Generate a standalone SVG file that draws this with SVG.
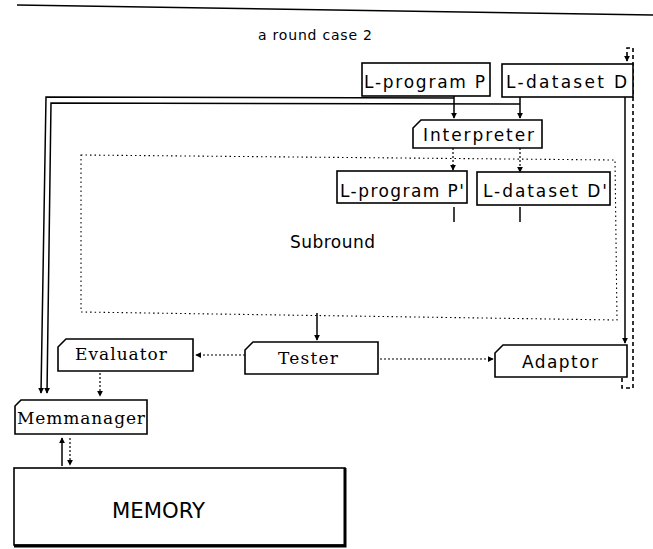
<svg xmlns="http://www.w3.org/2000/svg" width="653" height="549" viewBox="0 0 653 549">
<defs>
<style>
.box{fill:#fff;stroke:#000;stroke-width:1.6}
.lbl{font-family:"DejaVu Sans","Liberation Sans",sans-serif;font-size:17px;fill:#000}
.ser{font-family:"DejaVu Serif","Liberation Serif",serif;font-size:17px;fill:#000}
.sol{fill:none;stroke:#000;stroke-width:1.5}
.dot{fill:none;stroke:#000;stroke-width:1.2;stroke-dasharray:2 2}
.dsh{fill:none;stroke:#000;stroke-width:1.6;stroke-dasharray:4 3}
.sub{fill:none;stroke:#000;stroke-width:1.1;stroke-dasharray:1.5 3}
</style>
<marker id="ah" viewBox="0 0 8 8" refX="7" refY="4" markerWidth="6" markerHeight="6" orient="auto" markerUnits="userSpaceOnUse">
<path d="M0,0 L8,4 L0,8 z" fill="#000"/>
</marker>
</defs>
<rect width="653" height="549" fill="#fff"/>
<line x1="17" y1="5" x2="653" y2="15" stroke="#000" stroke-width="1.5"/>
<text x="258" y="40" font-family="DejaVu Sans, sans-serif" font-size="14" textLength="114" lengthAdjust="spacing">a round  case 2</text>

<g id="subround">
<path class="sub" d="M81,155 L615,160 L617,320 L81,312 Z"/>
<text class="lbl" x="290" y="248" font-size="16" textLength="85" lengthAdjust="spacing">Subround</text>
</g>

<g id="connectors">
<path class="sol" d="M454,98 L46,97 L41,393" marker-end="url(#ah)"/>
<path class="sol" d="M520,104 L51,103 L47,393" marker-end="url(#ah)"/>
<path class="sol" d="M454,96 L454,118" marker-end="url(#ah)"/>
<path class="sol" d="M520,97 L520,118" marker-end="url(#ah)"/>
<path class="dot" d="M453,148 L453,170" marker-end="url(#ah)"/>
<path class="dot" d="M520,148 L520,172" marker-end="url(#ah)"/>
<path class="sol" d="M454,207 L454,222"/>
<path class="sol" d="M520,207 L520,222"/>
<path class="sol" d="M317,313 L317,340" marker-end="url(#ah)"/>
<path class="dot" d="M245,355 L196,355" marker-end="url(#ah)"/>
<path class="dot" d="M380,359 L493,359" marker-end="url(#ah)"/>
<path class="dot" d="M100,373 L100,396" marker-end="url(#ah)"/>
<path class="sol" d="M62,466 L62,438" marker-end="url(#ah)"/>
<path class="dot" d="M70,438 L70,465" marker-end="url(#ah)"/>
<path class="sol" d="M625,97 L625,343" marker-end="url(#ah)"/>
<path class="dsh" d="M622,378 L622,388 L633,388 L633,48 L627,48 L627,61" marker-end="url(#ah)"/>
</g>

<g id="lprogP">
<rect class="box" x="362" y="63" width="128" height="33"/>
<text class="lbl" x="364" y="88" textLength="121" lengthAdjust="spacing">L-program P</text>
</g>
<g id="ldataD">
<rect class="box" x="502" y="64" width="131" height="33"/>
<text class="lbl" x="506" y="88" textLength="121" lengthAdjust="spacing">L-dataset  D</text>
</g>
<g id="interpreter">
<path class="box" d="M421,120 L542,120 L542,148 L413,148 L413,128 Z"/>
<text class="lbl" x="423" y="141" textLength="111" lengthAdjust="spacing">Interpreter</text>
</g>
<g id="lprogP2">
<rect class="box" x="337" y="171" width="130" height="32"/>
<text class="lbl" x="340" y="197" textLength="124" lengthAdjust="spacing">L-program P'</text>
</g>
<g id="ldataD2">
<rect class="box" x="477" y="172" width="133" height="33"/>
<text class="lbl" x="483" y="197" textLength="124" lengthAdjust="spacing">L-dataset D'</text>
</g>
<g id="evaluator">
<path class="box" d="M66,339 L193,339 L193,371 L58,371 L58,347 Z"/>
<text class="ser" x="75" y="360" textLength="92" lengthAdjust="spacing">Evaluator</text>
</g>
<g id="tester">
<path class="box" d="M253,342 L378,342 L378,374 L245,374 L245,350 Z"/>
<text class="ser" x="278" y="364" textLength="60" lengthAdjust="spacing">Tester</text>
</g>
<g id="adaptor">
<path class="box" d="M503,345 L627,345 L627,377 L495,377 L495,353 Z"/>
<text class="lbl" x="522" y="368" textLength="76" lengthAdjust="spacing">Adaptor</text>
</g>
<g id="memmanager">
<path class="box" d="M21,400 L147,400 L147,434 L15,434 L15,406 Z"/>
<text class="ser" x="17" y="424" textLength="128" lengthAdjust="spacing">Memmanager</text>
</g>
<g id="memory">
<rect class="box" x="14" y="468" width="331" height="77"/>
<path d="M345,468 L345,546 L14,546" fill="none" stroke="#000" stroke-width="3"/>
<text x="112" y="518" font-family="DejaVu Sans, sans-serif" font-size="21" textLength="93" lengthAdjust="spacingAndGlyphs">MEMORY</text>
</g>
</svg>
